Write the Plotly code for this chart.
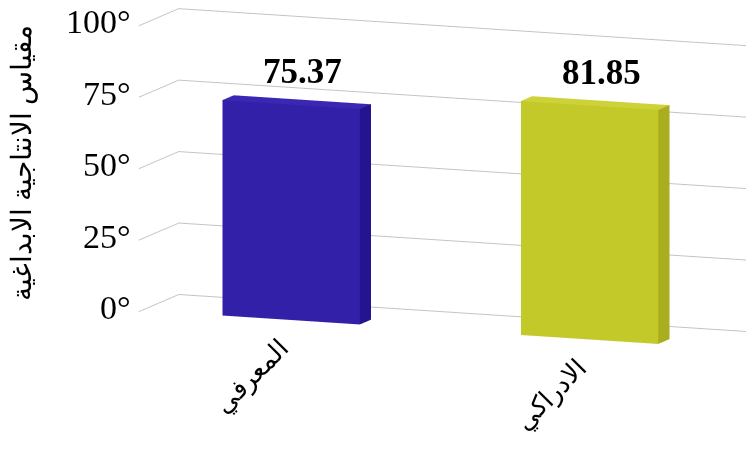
import plotly.graph_objects as go

# Data
categories = ["المعرفي", "الادراكي"]
values = [75.37, 81.85]
value_labels = ["75.37", "81.85"]
tick_vals = [0, 25, 50, 75, 100]
tick_text = ["0°", "25°", "50°", "75°", "100°"]

# Face colours per bar: front, side, top
front_colors = ["#3220A8", "#C4C92A"]
side_colors = ["#241490", "#A9AD1E"]
top_colors = ["#3A28B4", "#CDD238"]

SERIF = "Liberation Serif"

half_w = 0.23        # half bar width in category units
y0, y1 = 0.08, 0.36  # bar depth span

# Orthographic view: direction of the eye from the look-at point
view_dir = (0.358, -0.918, 0.167)
view_dist = 1.2
look_at = (-0.338, -0.157, -0.206)
box_scale = 1.28

fig = go.Figure()

for i, (cat, v) in enumerate(zip(categories, values)):
    xc = i + 0.5
    xa, xb = xc - half_w, xc + half_w
    xs = [xa, xb, xb, xa, xa, xb, xb, xa]
    ys = [y0, y0, y1, y1, y0, y0, y1, y1]
    zs = [0, 0, 0, 0, v, v, v, v]
    tri_i = [0, 0, 1, 1, 4, 4, 0, 0, 3, 3, 0, 0]
    tri_j = [1, 5, 2, 6, 5, 6, 3, 7, 2, 6, 1, 2]
    tri_k = [5, 4, 6, 5, 6, 7, 7, 4, 6, 7, 2, 3]
    fc = ([front_colors[i]] * 2 + [side_colors[i]] * 2 + [top_colors[i]] * 2
          + [side_colors[i]] * 6)
    fig.add_trace(go.Mesh3d(
        x=xs, y=ys, z=zs, i=tri_i, j=tri_j, k=tri_k,
        facecolor=fc, flatshading=True, name=cat,
        lighting=dict(ambient=1, diffuse=0, specular=0, roughness=1, fresnel=0),
        hoverinfo="skip", showscale=False,
    ))

annotations = []
# value labels above the bars and rotated category labels below them
for i, (cat, v, lab) in enumerate(zip(categories, values, value_labels)):
    xc = i + 0.5
    annotations.append(dict(
        x=xc, y=(y0 + y1) / 2, z=v, text=lab, showarrow=False,
        xanchor="center", yanchor="bottom", xshift=6, yshift=9,
        font=dict(family=SERIF, size=35, color="black", weight="bold"),
    ))
    annotations.append(dict(
        x=xc, y=y0, z=0, text=cat, showarrow=False, textangle=-45,
        xanchor="right", yanchor="top", xshift=6, yshift=-11,
        font=dict(family=SERIF, size=26, color="black"),
    ))
# value axis tick labels on the front-left edge
for tv, tt in zip(tick_vals, tick_text):
    annotations.append(dict(
        x=0, y=0, z=tv, text=tt, showarrow=False,
        xanchor="right", yanchor="middle", xshift=-6, yshift=4,
        font=dict(family=SERIF, size=34, color="black"),
    ))

hidden = dict(showgrid=False, showticklabels=False, showline=False,
              zeroline=False, showbackground=False, showspikes=False,
              ticks="", title=dict(text=""))

eye = {k: look_at[n] + view_dir[n] * view_dist for n, k in enumerate("xyz")}
center = {k: look_at[n] for n, k in enumerate("xyz")}

fig.update_layout(
    width=746, height=453,
    margin=dict(l=0, r=0, t=0, b=0),
    paper_bgcolor="white",
    showlegend=False,
    scene=dict(
        domain=dict(x=[0, 1], y=[0, 1]),
        xaxis=dict(range=[0, 2], **hidden),
        yaxis=dict(range=[0, 1], **hidden),
        zaxis=dict(range=[0, 100], tickvals=tick_vals,
                   showgrid=True, gridcolor="#C4C4C4", gridwidth=2,
                   showticklabels=False,
                   showline=False, zeroline=False, showbackground=False,
                   showspikes=False, ticks="", title=dict(text="")),
        aspectmode="manual",
        aspectratio=dict(x=2.21 * box_scale, y=0.38 * box_scale, z=1.0 * box_scale),
        camera=dict(
            projection=dict(type="orthographic"),
            eye=eye, center=center,
            up=dict(x=0, y=0, z=1),
        ),
        annotations=annotations,
    ),
    annotations=[dict(
        xref="paper", yref="paper", x=0.03, y=0.64,
        xanchor="center", yanchor="middle",
        text="مقياس الانتاجية الابداغية", textangle=-90, showarrow=False,
        font=dict(family=SERIF, size=28, color="black"),
    )],
)

fig.write_html("out.html", config={"displayModeBar": False})
